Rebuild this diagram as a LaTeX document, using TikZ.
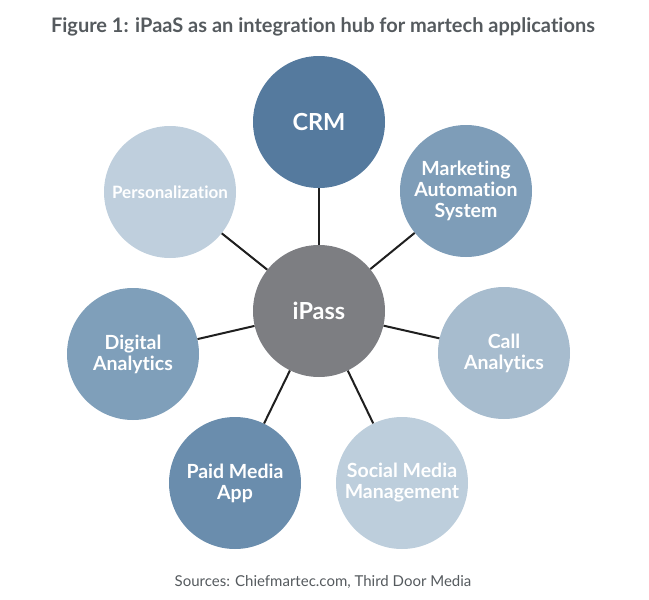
\documentclass[tikz,border=0pt]{standalone}
\usepackage{fontspec}
\setmainfont{Lato}[Ligatures=CommonOff]
\begin{document}
\begin{tikzpicture}[x=1pt,y=-1pt,
  bub/.style={circle, minimum size=132pt, inner sep=0pt, text=white, font=\bfseries\fontsize{19.5}{21}\selectfont, align=center},
  link/.style={line width=2pt, draw=black!88}]
\definecolor{cCRM}{HTML}{557A9E}
\definecolor{cMAS}{HTML}{7E9DB8}
\definecolor{cCall}{HTML}{A7BCCE}
\definecolor{cSoc}{HTML}{BDCEDC}
\definecolor{cPaid}{HTML}{6A8DAD}
\definecolor{cDig}{HTML}{7F9FBA}
\definecolor{cPers}{HTML}{BFCFDD}
\definecolor{cHub}{HTML}{7D7E82}
\definecolor{txtgray}{HTML}{555A5E}
\useasboundingbox (0,0) rectangle (649,600);
\node[font=\bfseries\fontsize{20}{22}\selectfont, text=txtgray] (title) at (323,27) {Figure 1: iPaaS as an integration hub for martech applications};
\node[bub, fill=cHub, font=\bfseries\fontsize{23.5}{25}\selectfont] (hub) at (319,311) {iPass};
\node[bub, fill=cCRM, font=\bfseries\fontsize{23.5}{25}\selectfont] (crm) at (319,122) {CRM};
\node[bub, fill=cMAS] (mas) at (466,191) {Marketing\\Automation\\System};
\node[bub, fill=cCall] (call) at (504,353) {Call\\Analytics};
\node[bub, fill=cSoc] (soc) at (402,483) {Social Media\\Management};
\node[bub, fill=cPaid] (paid) at (235,483) {Paid Media\\App};
\node[bub, fill=cDig] (dig) at (133,354) {Digital\\Analytics};
\node[bub, fill=cPers, font=\bfseries\fontsize{17}{19}\selectfont] (pers) at (170,192) {Personalization};
\foreach \n in {crm,mas,call,soc,paid,dig,pers} \draw[link] (hub) -- (\n);
\node[font=\fontsize{15}{17}\selectfont, text=txtgray] (src) at (323,582) {Sources: Chiefmartec.com, Third Door Media};
\end{tikzpicture}
\end{document}
